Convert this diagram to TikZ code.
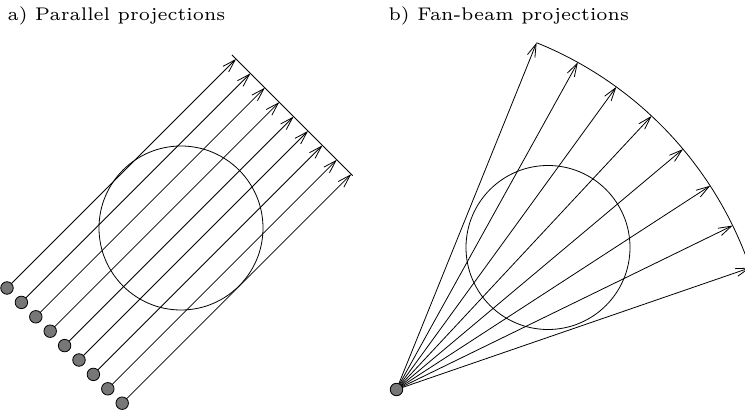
\documentclass[tikz,border=0pt]{standalone}
\usetikzlibrary{arrows.meta,calc}
\definecolor{srcgray}{HTML}{777777}

\begin{document}
\begin{tikzpicture}[x=1pt,y=1pt, every node/.style={inner sep=0pt}, title/.style={font=\fontsize{6}{7}\selectfont,scale=3.05}, src/.style={circle,draw=black,fill=srcgray,minimum size=12.5pt,line width=0.8pt}, ray/.style={-{Straight Barb[length=13pt,width=8pt]},line width=0.8pt}, outline/.style={line width=0.8pt}]
\path[use as bounding box,clip] (0,0) rectangle (745,415);
% a) parallel
\node[title,anchor=base west] (ttla) at (7,394) {a) Parallel projections};
\node[outline,draw,circle,minimum size=164pt] (obja) at (181,187) {};
\foreach \i in {0,...,8} {
  \coordinate (tip\i) at ({236+14.4*\i},{356-14.4*\i});
  \draw[ray] ({7+14.4*\i},{127-14.4*\i}) coordinate (s\i) -- (tip\i);
  \node[src] (src\i) at (s\i) {};
}
\coordinate (deta) at ($(tip0)+(-4,4)$); \coordinate (detb) at ($(tip8)+(1.5,-1.5)$);
\draw[outline] (deta)--(detb);
% b) fan-beam
\node[title,anchor=base west] (ttlb) at (388,394) {b) Fan-beam projections};
\node[outline,draw,circle,minimum size=164pt] (objb) at (548,167.5) {};
\coordinate (fanc) at (396.5,25.5);
\foreach \k in {0,...,7} {
  \coordinate (ftip\k) at ($(fanc)+({68-7*\k}:374)$);
  \draw[ray] (fanc) -- (ftip\k);
}
\draw[outline] (ftip0) arc[start angle=68,end angle=15,radius=374];
\node[src] (fan) at (fanc) {};
\end{tikzpicture}
\end{document}
